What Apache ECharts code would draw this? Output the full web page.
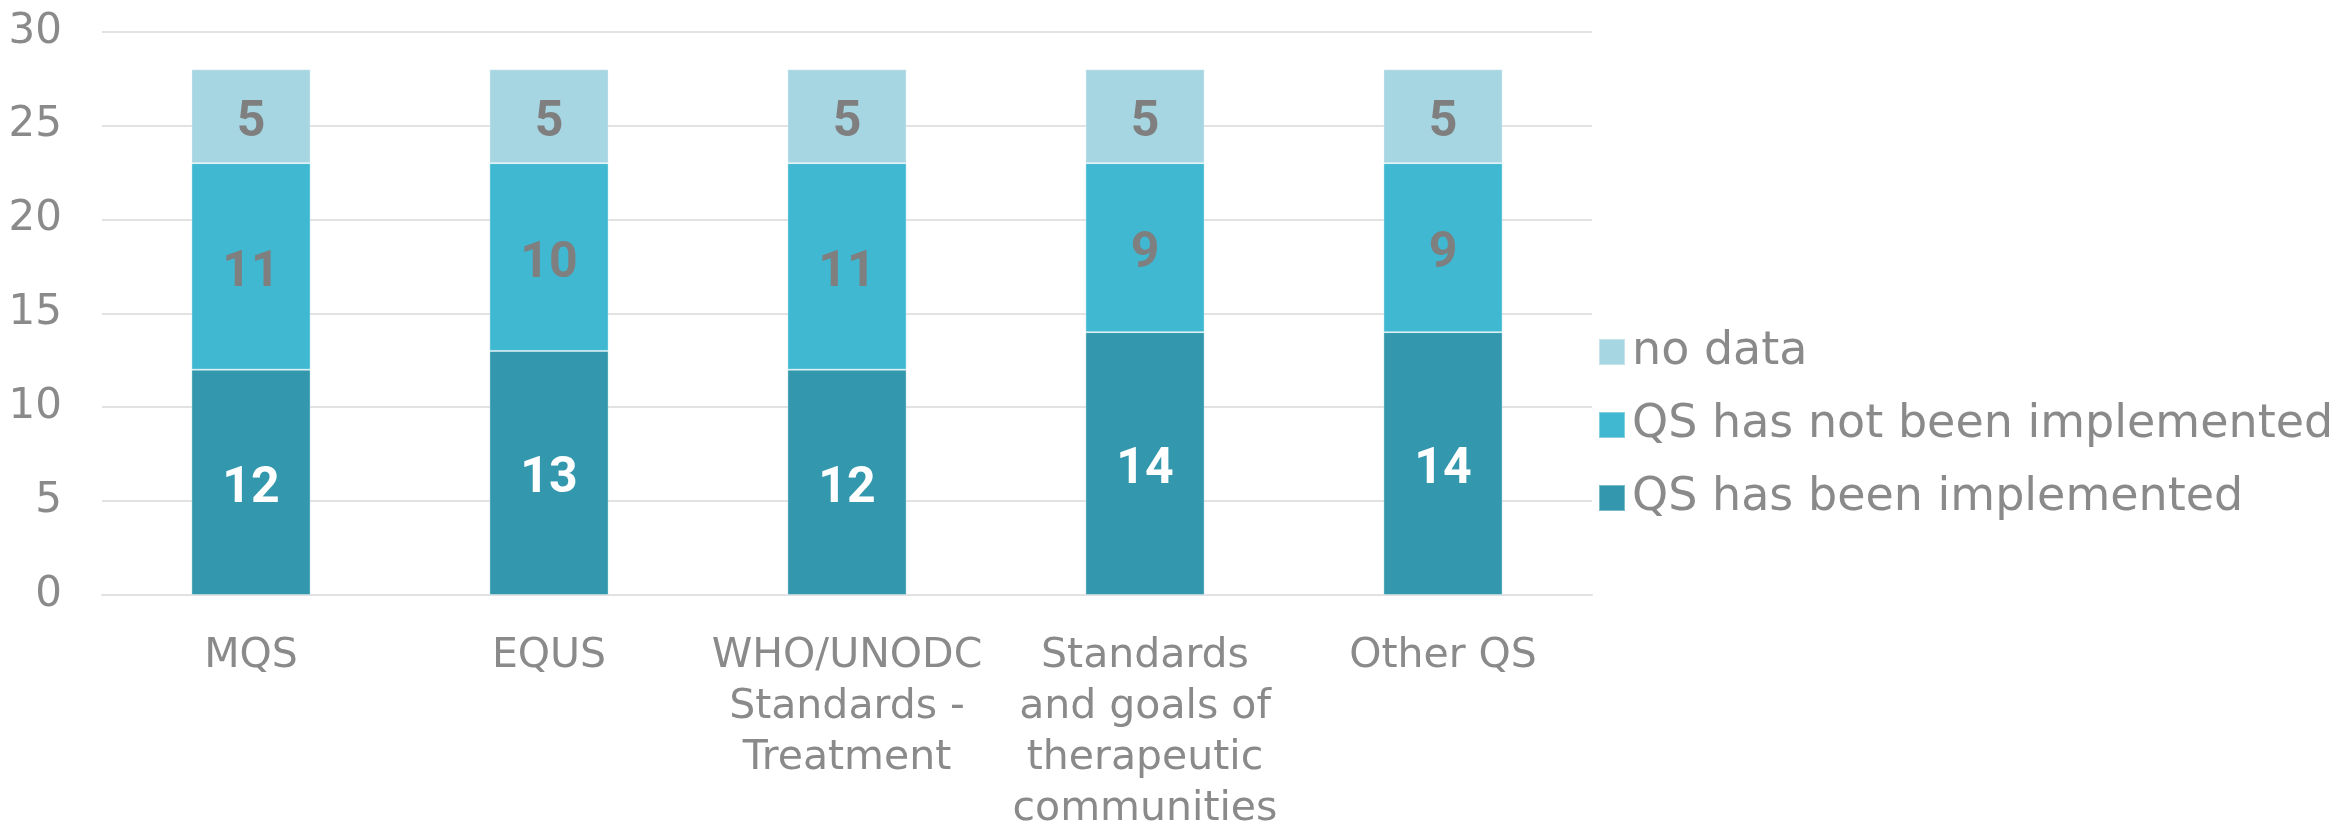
<!DOCTYPE html>
<html>
<head>
<meta charset="utf-8">
<script src="https://cdn.jsdelivr.net/npm/echarts@6/dist/echarts.min.js"></script>
<style>
  html, body { margin: 0; padding: 0; background: #ffffff; }
  #chart { width: 2351px; height: 825px; }
</style>
</head>
<body>
<div id="chart"></div>
<script>
const categories = [
  "MQS",
  "EQUS",
  "WHO/UNODC\nStandards -\nTreatment",
  "Standards\nand goals of\ntherapeutic\ncommunities",
  "Other QS"
];
const seriesNames = ["QS has been implemented", "QS has not been implemented", "no data"];
const implemented = [12, 13, 12, 14, 14];
const notImplemented = [11, 10, 11, 9, 9];
const noData = [5, 5, 5, 5, 5];
const yTicks = [0, 5, 10, 15, 20, 25, 30];

const colors = ["#3398AD", "#40B8D2", "#A7D6E3"];
const labelColors = ["#ffffff", "#7f7f7f", "#7f7f7f"];
const textFont = "DejaVu Sans";
const gray = "#8a8a8a";

const values = [implemented, notImplemented, noData];

const chart = echarts.init(document.getElementById('chart'), null, { renderer: 'canvas' });
chart.setOption({
  animation: false,
  backgroundColor: '#ffffff',
  grid: { left: 102, right: 759, top: 31.7, bottom: 230, containLabel: false, outerBoundsMode: 'none' },
  legend: {
    orient: 'vertical',
    left: 1593,
    top: 324,
    itemWidth: 26,
    itemHeight: 26,
    itemGap: 27,
    icon: 'rect',
    data: ["no data", "QS has not been implemented", "QS has been implemented"],
    textStyle: { fontFamily: textFont, fontSize: 46, color: gray, lineHeight: 46, padding: [0, 0, 0, 2] }
  },
  xAxis: {
    type: 'category',
    data: categories,
    axisLine: { show: true, lineStyle: { color: '#e2e2e2', width: 2 } },
    axisTick: { show: false },
    axisLabel: {
      interval: 0,
      margin: 36,
      fontFamily: textFont,
      fontSize: 41,
      lineHeight: 51,
      color: gray,
      align: 'center'
    }
  },
  yAxis: {
    type: 'value',
    min: yTicks[0],
    max: yTicks[yTicks.length - 1],
    interval: yTicks[1] - yTicks[0],
    axisLine: { show: false },
    axisTick: { show: false },
    splitLine: { lineStyle: { color: '#e2e2e2', width: 2 } },
    axisLabel: { margin: 40, fontFamily: textFont, fontSize: 42, color: gray }
  },
  series: seriesNames.map((name, i) => ({
    name: name,
    type: 'bar',
    stack: 'total',
    barWidth: '40%',
    data: values[i],
    itemStyle: { color: colors[i], borderColor: 'rgba(255,255,255,0.35)', borderWidth: 1 },
    label: {
      show: true,
      position: 'inside',
      offset: [0, 7],
      fontFamily: 'Roboto',
      fontWeight: 'bold',
      fontSize: 50,
      color: labelColors[i]
    }
  }))
});
</script>
</body>
</html>
